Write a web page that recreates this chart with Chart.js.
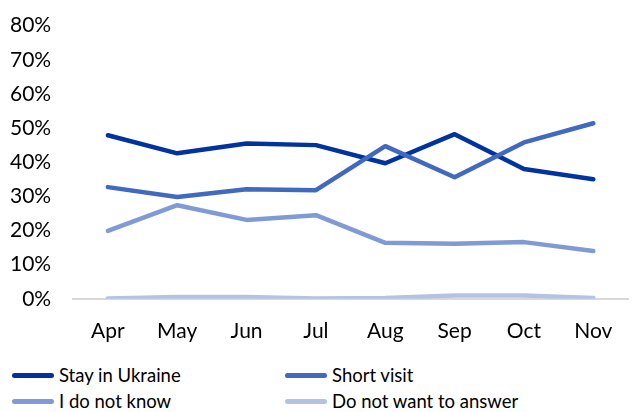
<!DOCTYPE html>
<html>
<head>
<meta charset="utf-8">
<script src="https://cdn.jsdelivr.net/npm/chart.js@4"></script>
<style>
  html, body { margin: 0; padding: 0; background: #fff; overflow: hidden; }
  #wrap { position: relative; width: 643px; height: 412px; overflow: hidden; font-family: Lato, "Open Sans", sans-serif; }
  #chart-box { position: absolute; left: -21px; top: -9px; width: 664px; height: 373px; }
  #legend { position: absolute; left: 12px; top: 364px; width: 631px; display: grid; grid-template-columns: 273px 358px; row-gap: 4px; }
  .item { display: flex; align-items: center; font-size: 18.5px; color: #000; height: 22px; }
  .swatch { width: 42px; height: 5px; border-radius: 3px; margin-right: 5px; }
</style>
</head>
<body>
<div id="wrap">
  <div id="chart-box"><canvas id="chart"></canvas></div>
  <div id="legend"></div>
</div>
<script>
var months = ['Apr', 'May', 'Jun', 'Jul', 'Aug', 'Sep', 'Oct', 'Nov'];
var Stay_in_Ukraine = [47.9, 42.6, 45.5, 45.0, 39.7, 48.2, 38.0, 35.0];
var Short_visit = [32.7, 29.8, 32.1, 31.8, 44.7, 35.6, 45.8, 51.4];
var Do_not_know = [19.9, 27.4, 23.1, 24.5, 16.4, 16.1, 16.6, 14.0];
var No_answer = [0.1, 0.5, 0.5, 0.1, 0.2, 1.0, 1.0, 0.2];

var seriesNames = ['Stay in Ukraine', 'Short visit', 'I do not know', 'Do not want to answer'];
var seriesColors = ['#0033a0', '#4169bf', '#7f9ad4', '#b3c3e4'];
var seriesData = [Stay_in_Ukraine, Short_visit, Do_not_know, No_answer];

var datasets = seriesData.map(function (d, i) {
    return {
        label: seriesNames[i],
        data: d,
        borderColor: seriesColors[i],
        backgroundColor: seriesColors[i],
        borderWidth: 4.5,
        pointRadius: 0,
        tension: 0,
        borderCapStyle: 'round',
        borderJoinStyle: 'round',
        order: 4 - i
    };
});

var chart = new Chart('chart', {
    type: 'line',
    data: { labels: months, datasets: datasets },
    options: {
        responsive: true,
        maintainAspectRatio: false,
        animation: false,
        layout: { padding: { left: 9, right: 15, top: 4, bottom: 0 } },
        plugins: {
            legend: { display: false },
            tooltip: { enabled: false }
        },
        scales: {
            x: {
                offset: true,
                grid: { display: false, drawTicks: false },
                border: { display: true, color: '#d9d9d9', width: 2 },
                ticks: { color: '#000', font: { family: 'Lato', size: 21 }, padding: 20 }
            },
            y: {
                min: 0,
                max: 80,
                grid: { display: false, drawTicks: false },
                border: { display: false },
                ticks: {
                    stepSize: 10,
                    color: '#000',
                    padding: 22,
                    font: { family: 'Lato', size: 21 },
                    callback: function (v) { return v + '%'; }
                }
            }
        }
    }
});

var legend = document.getElementById('legend');
seriesNames.forEach(function (name, i) {
    var item = document.createElement('div');
    item.className = 'item';
    var sw = document.createElement('span');
    sw.className = 'swatch';
    sw.style.background = seriesColors[i];
    var txt = document.createElement('span');
    txt.textContent = name;
    item.appendChild(sw);
    item.appendChild(txt);
    legend.appendChild(item);
});
</script>
</body>
</html>
